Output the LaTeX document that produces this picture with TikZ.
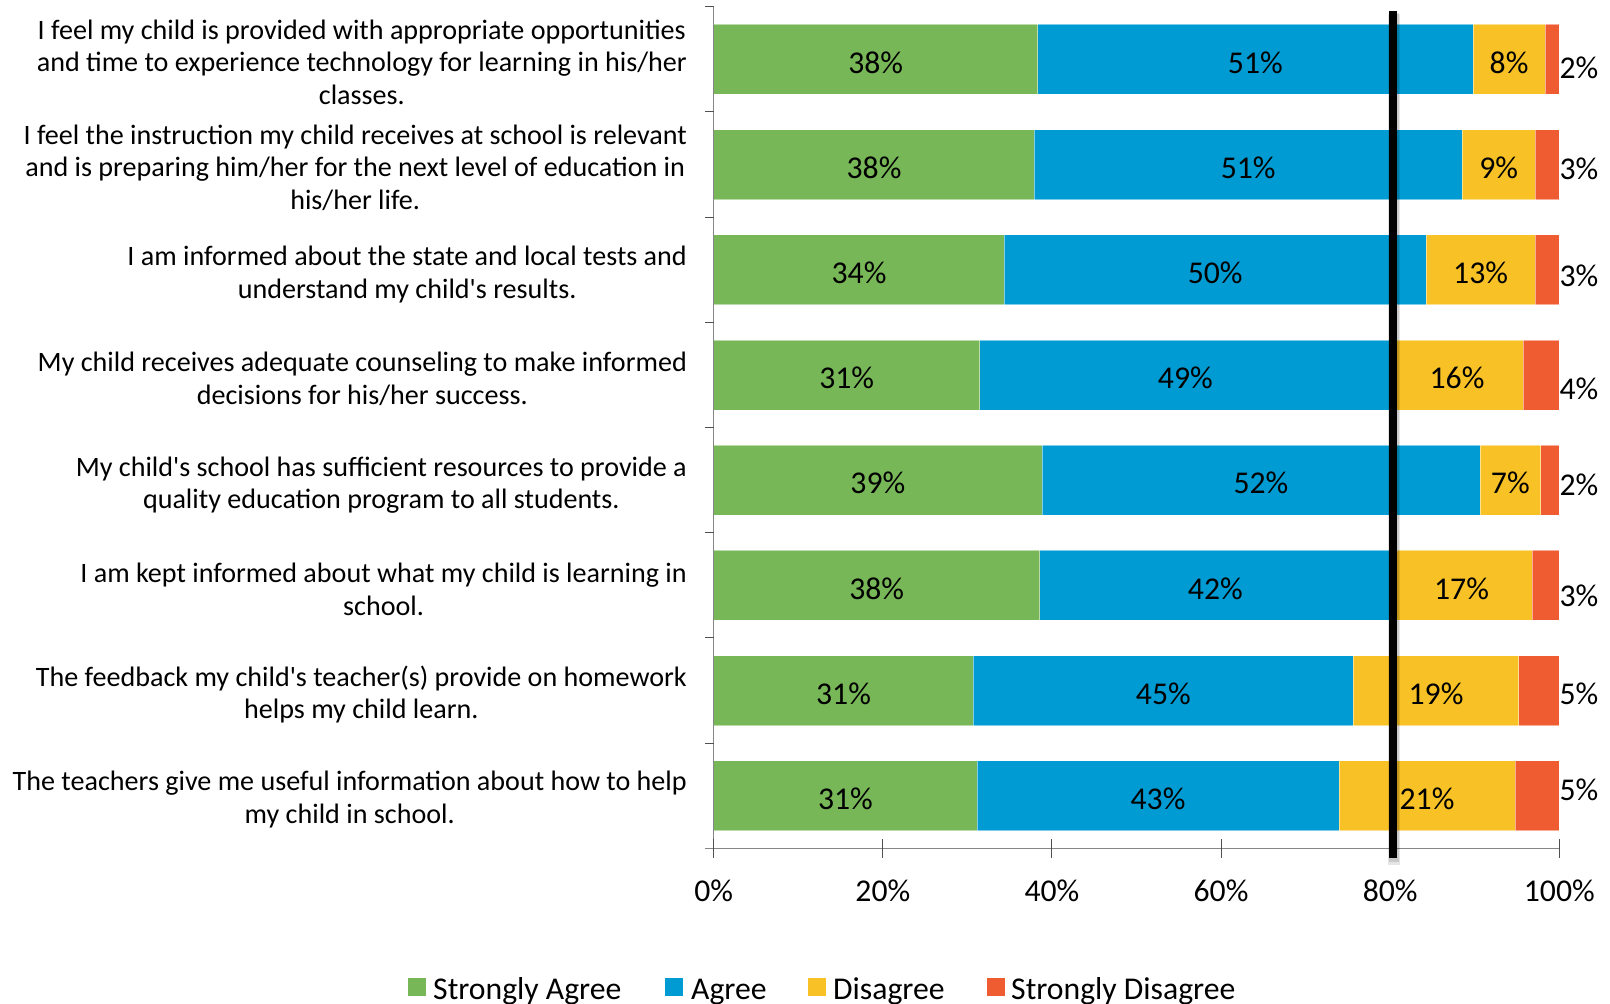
\documentclass[tikz,border=0pt]{standalone}
\usepackage{fontspec}
\newfontfamily\calib{Carlito}
\definecolor{cG}{HTML}{77B757}
\definecolor{cB}{HTML}{009BD3}
\definecolor{cY}{HTML}{F8C125}
\definecolor{cR}{HTML}{F05C32}
\definecolor{axgray}{HTML}{868686}
\definecolor{tickgray}{HTML}{505050}
\tikzset{
  pct/.style={font=\calib\fontsize{31.7}{37}\selectfont, inner sep=0pt, anchor=base},
  side/.style={pct, anchor=base west},
  cat/.style={font=\calib\fontsize{28.1}{32.5}\selectfont, inner sep=0pt, anchor=east, align=center},
  seg/.style={draw=white, draw opacity=0.5, line width=0.5pt},
  axisline/.style={draw=axgray, line width=1.5pt},
  tickline/.style={draw=tickgray, line width=1pt},
  legtext/.style={pct, anchor=base west}
}
\newcommand\brow[9]{%
  \pgfmathsetmacro\cy{6.7+105.2*(#1-0.5)}%
  \pgfmathsetmacro\xg{713.7+8.456*#2}%
  \pgfmathsetmacro\xb{713.7+8.456*#3}%
  \pgfmathsetmacro\xy{713.7+8.456*#4}%
  \fill[cG] (713.7,\cy-35) rectangle (\xg,\cy+35);
  \fill[cB] (\xg,\cy-35) rectangle (\xb,\cy+35);
  \fill[cY] (\xb,\cy-35) rectangle (\xy,\cy+35);
  \fill[cR] (\xy,\cy-35) rectangle (1559.3,\cy+35);
  \draw[seg] (713.7,\cy-35) rectangle (1559.3,\cy+35);
  \draw[seg] (\xg,\cy-35) -- (\xg,\cy+35) (\xb,\cy-35) -- (\xb,\cy+35) (\xy,\cy-35) -- (\xy,\cy+35);
  \node[pct] (g#1) at ({(713.7+\xg)/2},\cy+13.7) {#5\%};
  \node[pct] (b#1) at ({(\xg+\xb)/2},\cy+13.7) {#6\%};
  \node[pct] (y#1) at ({(\xb+\xy)/2},\cy+13.7) {#7\%};
  \node[side] (r#1) at (1559.3,#9+10) {#8\%};
}
\begin{document}
\begin{tikzpicture}[x=1pt,y=-1pt]
\useasboundingbox (0,0) rectangle (1610,1004);
\fill[white] (0,0) rectangle (1610,1004);

% bars
\brow{1}{38.31}{89.8}{98.31}{38}{51}{8}{2}{68.3}
\brow{2}{37.92}{88.49}{97.16}{38}{51}{9}{3}{169.7}
\brow{3}{34.37}{84.23}{97.16}{34}{50}{13}{3}{276.7}
\brow{4}{31.46}{80.1}{95.71}{31}{49}{16}{4}{389}
\brow{5}{38.82}{90.62}{97.80}{39}{52}{7}{2}{485}
\brow{6}{38.55}{80.1}{96.77}{38}{42}{17}{3}{596.7}
\brow{7}{30.71}{75.64}{95.2}{31}{45}{19}{5}{694}
\brow{8}{31.15}{73.95}{94.76}{31}{43}{21}{5}{790.7}

% axes
\draw[axisline] (713.7,6.7) -- (713.7,848.3);
\draw[axisline] (705,848.3) -- (1559.3,848.3);
\foreach \k in {0,...,7} {
  \draw[tickline] (705,{6.7+105.2*\k}) -- (713.7,{6.7+105.2*\k});
}
\foreach \p in {0,20,40,60,80,100} {
  \draw[tickline] ({713.7+8.456*\p},839) -- ({713.7+8.456*\p},858);
  \node[pct] (t\p) at ({713.7+8.456*\p},901.5) {\p\%};
}

% category labels
\node[cat] (c1) at (687,{6.7+105.2*0.5+3}) {I feel my child is provided with appropriate opportunities\\and time to experience technology for learning in his/her\\classes.};
\node[cat] (c2) at (687,{6.7+105.2*1.5+3}) {I feel the instruction my child receives at school is relevant\\and is preparing him/her for the next level of education in\\his/her life.};
\node[cat] (c3) at (687,{6.7+105.2*2.5+5}) {I am informed about the state and local tests and\\understand my child's results.};
\node[cat] (c4) at (687,{6.7+105.2*3.5+4}) {My child receives adequate counseling to make informed\\decisions for his/her success.};
\node[cat] (c5) at (687,{6.7+105.2*4.5+5}) {My child's school has sufficient resources to provide a\\quality education program to all students.};
\node[cat] (c6) at (687,{6.7+105.2*5.5+4}) {I am kept informed about what my child is learning in\\school.};
\node[cat] (c7) at (687,{6.7+105.2*6.5+4}) {The feedback my child's teacher(s) provide on homework\\helps my child learn.};
\node[cat] (c8) at (687,{6.7+105.2*7.5+4}) {The teachers give me useful information about how to help\\my child in school.};

% 80% reference line with soft shadow
\draw[black, opacity=0.10, line width=12pt] (1394,14) -- (1394,865);
\draw[black, opacity=0.12, line width=9.5pt] (1394,13) -- (1394,862);
\draw[black, line width=7.5pt] (1393,11) -- (1393,858);

% legend
\fill[cG] (408,978) rectangle (426,996);
\node[legtext] (l1) at (433,999) {Strongly Agree};
\fill[cB] (665,978) rectangle (683,996);
\node[legtext] (l2) at (691,999) {Agree};
\fill[cY] (808,978) rectangle (826,996);
\node[legtext] (l3) at (833,999) {Disagree};
\fill[cR] (987,978) rectangle (1005,996);
\node[legtext] (l4) at (1011,999) {Strongly Disagree};
\end{tikzpicture}
\end{document}
